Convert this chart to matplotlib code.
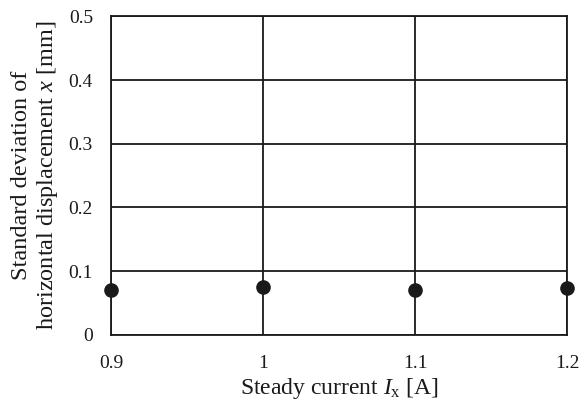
import matplotlib
matplotlib.use("Agg")
import matplotlib.pyplot as plt

# Measured standard deviation of horizontal displacement vs. steady current
current = [0.9, 1.0, 1.1, 1.2]
std_dev = [0.070, 0.075, 0.070, 0.074]

x_ticks = [0.9, 1.0, 1.1, 1.2]
x_tick_labels = ["0.9", "1", "1.1", "1.2"]
y_ticks = [0, 0.1, 0.2, 0.3, 0.4, 0.5]
y_tick_labels = ["0", "0.1", "0.2", "0.3", "0.4", "0.5"]

plt.rcParams["font.family"] = ["Liberation Serif", "DejaVu Serif"]
plt.rcParams["mathtext.fontset"] = "custom"
plt.rcParams["mathtext.rm"] = "Liberation Serif"
plt.rcParams["mathtext.it"] = "Liberation Serif:italic"

fig = plt.figure(figsize=(5.87, 4.07), dpi=100)
ax = fig.add_axes([0.189, 0.177, 0.777, 0.783])

ax.set_xlim(0.9, 1.2)
ax.set_ylim(0, 0.5)
ax.set_xticks(x_ticks)
ax.set_xticklabels(x_tick_labels)
ax.set_yticks(y_ticks)
ax.set_yticklabels(y_tick_labels)

ax.grid(True, color="#1a1a1a", linewidth=1.3)
ax.set_axisbelow(True)
for sp in ax.spines.values():
    sp.set_color("#1a1a1a")
    sp.set_linewidth(1.3)

ax.tick_params(axis="both", length=0, labelsize=14, colors="#1a1a1a")
ax.tick_params(axis="x", pad=14.5)
ax.tick_params(axis="y", pad=13)

ax.plot(current, std_dev, linestyle="none", marker="o", markersize=9.5,
        color="#1a1a1a", clip_on=False, zorder=5)

ax.set_xlabel(r"Steady current $I_\mathrm{x}$ [A]", fontsize=17,
              color="#1a1a1a", labelpad=3)
ax.set_ylabel("Standard deviation of\n" + r"horizontal displacement $x$ [mm]",
              fontsize=17.5, color="#1a1a1a", labelpad=6, linespacing=1.15)

fig.savefig("out.png", dpi=100)
